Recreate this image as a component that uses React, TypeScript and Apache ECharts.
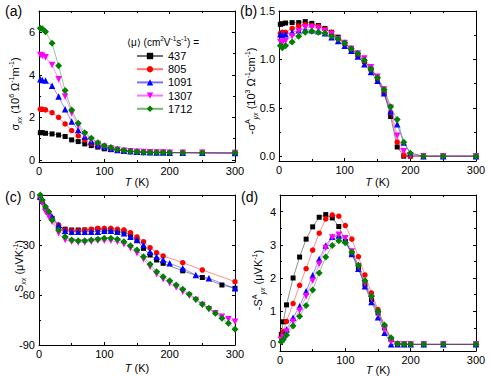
import React, { useEffect, useRef } from "react";
import * as echarts from "echarts";

// ---------- data ----------
const seriesNames = ["437", "805", "1091", "1307", "1712"];
const tempsAB = [2, 5, 10, 20, 30, 40, 50, 60, 70, 80, 90, 100, 110, 120, 130, 140, 150, 160, 170, 180, 190, 200, 220, 250, 300];

// (a) sigma_xx (10^6 Ohm^-1 m^-1)
const sxx437 = [1.28, 1.28, 1.25, 1.22, 1.17, 1.1, 0.94, 0.86, 0.75, 0.67, 0.6, 0.52, 0.48, 0.45, 0.42, 0.4, 0.38, 0.37, 0.36, 0.35, 0.35, 0.34, 0.34, 0.33, 0.32];
const sxx805 = [2.38, 2.38, 2.35, 2.22, 2.0, 1.69, 1.38, 1.13, 0.94, 0.78, 0.66, 0.58, 0.51, 0.46, 0.43, 0.4, 0.38, 0.37, 0.36, 0.35, 0.35, 0.34, 0.34, 0.33, 0.32];
const sxx1091 = [3.79, 3.76, 3.73, 3.48, 2.98, 2.38, 1.8, 1.41, 1.1, 0.86, 0.7, 0.6, 0.52, 0.47, 0.43, 0.4, 0.38, 0.37, 0.36, 0.35, 0.35, 0.34, 0.34, 0.33, 0.32];
const sxx1307 = [4.93, 4.9, 4.82, 4.46, 3.79, 2.98, 2.19, 1.6, 1.18, 0.94, 0.75, 0.62, 0.54, 0.48, 0.43, 0.4, 0.38, 0.37, 0.36, 0.35, 0.35, 0.34, 0.34, 0.33, 0.32];
const sxx1712 = [6.19, 6.16, 6.03, 5.48, 4.42, 3.26, 2.35, 1.72, 1.28, 1.02, 0.81, 0.66, 0.58, 0.5, 0.44, 0.41, 0.38, 0.36, 0.35, 0.35, 0.35, 0.34, 0.34, 0.33, 0.33];

// (b) -sigma^A_yx (10^3 Ohm^-1 cm^-1)
const syx437 = [1.362, 1.369, 1.376, 1.38, 1.38, 1.39, 1.372, 1.35, 1.32, 1.28, 1.23, 1.17, 1.11, 1.05, 0.98, 0.9, 0.8, 0.655, 0.41, 0.095, 0, 0, 0, 0, 0];
const syx805 = [1.27, 1.28, 1.28, 1.32, 1.345, 1.36, 1.35, 1.34, 1.31, 1.28, 1.21, 1.16, 1.1, 1.04, 0.98, 0.9, 0.8, 0.66, 0.45, 0.145, 0.01, 0, 0, 0, 0];
const syx1091 = [1.26, 1.25, 1.26, 1.28, 1.3, 1.31, 1.3, 1.29, 1.27, 1.23, 1.19, 1.14, 1.09, 1.03, 0.95, 0.87, 0.78, 0.65, 0.465, 0.33, 0.14, 0.03, 0, 0, 0];
const syx1307 = [1.18, 1.17, 1.19, 1.24, 1.29, 1.33, 1.33, 1.32, 1.29, 1.26, 1.21, 1.17, 1.11, 1.06, 1.01, 0.92, 0.82, 0.69, 0.5, 0.21, 0.05, 0.01, 0, 0, 0];
const syx1712 = [1.14, 1.12, 1.14, 1.18, 1.24, 1.28, 1.29, 1.28, 1.27, 1.24, 1.21, 1.17, 1.11, 1.06, 0.99, 0.9, 0.81, 0.69, 0.51, 0.38, 0.145, 0.03, 0, 0, 0];

// (c) S_xx (uV/K)
const tempsC437 = [2, 5, 10, 20, 30, 40, 50, 60, 70, 80, 90, 100, 110, 120, 130, 140, 150, 160, 170, 180, 190, 220, 250, 280, 300];
const Sxx437 = [-1, -4, -8, -14, -19, -20.5, -21, -21, -21, -21, -20.5, -21, -21, -21.5, -22, -24, -27, -32, -36, -39, -41, -45.5, -49.5, -54, -56];
const tempsC805 = [2, 5, 10, 20, 30, 40, 50, 60, 70, 80, 90, 100, 110, 120, 130, 140, 150, 160, 170, 180, 190, 220, 250, 300];
const Sxx805 = [-2, -4, -8, -14, -18, -21, -21.5, -21.5, -21, -20.5, -20, -20, -20, -20.5, -21, -22.6, -25.2, -28, -31.6, -34.6, -36.6, -40.6, -45, -52];
const tempsC1091 = [2, 5, 10, 15, 20, 30, 40, 50, 60, 70, 80, 90, 100, 110, 120, 130, 140, 150, 160, 170, 180, 190, 200, 220, 240, 260, 300];
const Sxx1091 = [-1, -3, -7, -10, -13, -18, -21.5, -22, -22, -22, -22, -22, -21.5, -21.5, -22, -23, -25, -27, -30, -34, -37, -39, -41, -44, -48, -50, -56];
const tempsC1307 = [2, 5, 10, 15, 20, 30, 40, 50, 60, 70, 80, 90, 100, 110, 120, 130, 140, 150, 160, 170, 180, 190, 200, 210, 220, 230, 240, 250, 260, 270, 280, 290, 300];
const Sxx1307 = [-2, -5, -10, -13, -16, -23, -27, -28, -28.5, -28.5, -28, -27.5, -27.5, -27.5, -28, -29.5, -32, -35, -38.5, -43, -47.5, -50.5, -53, -55.5, -58, -60.5, -63, -66, -68.5, -71, -73, -74.5, -76];
const tempsC1712 = [2, 5, 10, 15, 20, 30, 40, 50, 60, 70, 80, 90, 100, 110, 120, 130, 140, 150, 160, 170, 180, 190, 200, 210, 220, 230, 240, 250, 260, 270, 280, 290, 300];
const Sxx1712 = [0, -3, -7, -10, -15, -21, -25, -27, -27.5, -27.5, -27, -26.5, -26, -26, -26.5, -28, -30.5, -33, -37, -41.5, -46, -49, -51.5, -54, -56.5, -59.5, -62.5, -65.5, -68, -71, -74, -77, -80.5];

// (d) -S^A_yx (uV/K)
const Syx437 = [0.3, 0.68, 1.19, 2.0, 2.63, 3.17, 3.54, 3.83, 3.91, 3.81, 3.55, 3.1, 2.72, 2.3, 1.8, 1.35, 0.95, 0.5, 0.15, 0, 0, 0, 0, 0, 0];
const Syx805 = [0.2, 0.38, 0.69, 1.23, 1.78, 2.28, 2.84, 3.35, 3.78, 3.9, 3.86, 3.58, 3.17, 2.64, 2.09, 1.55, 1.05, 0.55, 0.15, 0, 0, 0, 0, 0, 0];
const Syx1091 = [0.15, 0.27, 0.45, 0.8, 1.15, 1.6, 2.08, 2.57, 2.98, 3.24, 3.28, 3.15, 2.72, 2.28, 1.75, 1.28, 0.82, 0.35, 0, 0, 0, 0, 0, 0, 0];
const Syx1307 = [0.13, 0.22, 0.38, 0.68, 1.02, 1.45, 1.92, 2.42, 2.9, 3.22, 3.3, 3.2, 2.8, 2.35, 1.83, 1.38, 0.92, 0.45, 0.08, 0, 0, 0, 0, 0, 0];
const Syx1712 = [0.08, 0.15, 0.28, 0.55, 0.85, 1.17, 1.64, 2.15, 2.63, 2.98, 3.12, 3.06, 2.78, 2.38, 1.92, 1.45, 1.0, 0.58, 0.2, 0.02, 0, 0, 0, 0, 0];

// tick values
const xMajor = [0, 100, 200, 300];
const yMajorA = [0, 2, 4, 6];
const yMinorA = [1, 3, 5];
const yMajorB = [0, 0.5, 1.0, 1.5];
const yMinorB = [0.25, 0.75, 1.25];
const yMajorC = [-90, -60, -30, 0];
const yMinorC = [-75, -45, -15];
const yMajorD = [0, 1, 2, 3, 4];
const yMinorD = [0.5, 1.5, 2.5, 3.5];

// ---------- styling ----------
const FONT = "'Liberation Sans', Arial, Helvetica, sans-serif";
const colors = ["#000000", "#ff0000", "#0000ff", "#ff00ff", "#008000"];
const symbols = ["rect", "circle", "triangle", "triangle", "diamond"];
const symbolRotates = [0, 0, 0, 180, 0];
const symbolSizes = [5, 5.5, 6.5, 6.5, 7];

const richX = {
  n: { fontSize: 11, lineHeight: 13, fontFamily: FONT, color: "#000" },
  i: { fontSize: 11, lineHeight: 13, fontFamily: FONT, color: "#000", fontStyle: "italic" },
};
const richY = {
  n: { fontSize: 11, lineHeight: 15, fontFamily: FONT, fill: "#000" },
  sub: { fontSize: 7, lineHeight: 7, fontFamily: FONT, fill: "#000", verticalAlign: "bottom", fontStyle: "italic" },
  sup: { fontSize: 7, lineHeight: 7, fontFamily: FONT, fill: "#000", verticalAlign: "top" },
};

type Panel = {
  grid: { left: number; top: number; width: number; height: number };
  ymin: number;
  ymax: number;
  major: number[];
  minor: number[];
  yfmt: (v: number) => string;
  yname: string;
  ynamePos: [number, number];
  xnameGap: number;
};

const panels: Panel[] = [
  {
    grid: { left: 39, top: 11, width: 196, height: 151 },
    ymin: -0.1, ymax: 7, major: yMajorA, minor: yMinorA,
    yfmt: (v) => String(v),
    yname: "{n|σ}{sub|xx}{n| (10}{sup|6}{n| Ω}{sup|-1}{n|m}{sup|-1}{n|)}",
    ynamePos: [15, 94],
    xnameGap: 13,
  },
  {
    grid: { left: 279, top: 11, width: 197, height: 150 },
    ymin: -0.05, ymax: 1.5, major: yMajorB, minor: yMinorB,
    yfmt: (v) => v.toFixed(1),
    yname: "{n|-σ}{sup|A}{sub|yx}{n| (10}{sup|3}{n| Ω}{sup|-1}{n|cm}{sup|-1}{n|)}",
    ynamePos: [251, 91],
    xnameGap: 14,
  },
  {
    grid: { left: 39, top: 195, width: 196, height: 150 },
    ymin: -90, ymax: 0, major: yMajorC, minor: yMinorC,
    yfmt: (v) => String(v),
    yname: "{n|S}{sub|xx}{n| (μVK}{sup|-1}{n|)}",
    ynamePos: [19, 266],
    xnameGap: 16,
  },
  {
    grid: { left: 280, top: 195, width: 196, height: 156 },
    ymin: -0.2, ymax: 4.5, major: yMajorD, minor: yMinorD,
    yfmt: (v) => String(v),
    yname: "{n|-S}{sup|A}{sub|yx}{n| (μVK}{sup|-1}{n|)}",
    ynamePos: [258, 280],
    xnameGap: 12,
  },
];

const panelData: { t: number[]; v: number[] }[][] = [
  [sxx437, sxx805, sxx1091, sxx1307, sxx1712].map((v) => ({ t: tempsAB, v })),
  [syx437, syx805, syx1091, syx1307, syx1712].map((v) => ({ t: tempsAB, v })),
  [
    { t: tempsC437, v: Sxx437 },
    { t: tempsC805, v: Sxx805 },
    { t: tempsC1091, v: Sxx1091 },
    { t: tempsC1307, v: Sxx1307 },
    { t: tempsC1712, v: Sxx1712 },
  ],
  [Syx437, Syx805, Syx1091, Syx1307, Syx1712].map((v) => ({ t: tempsAB, v })),
];

const panelLabels = [
  { text: "(a)", x: 5, y: 4 },
  { text: "(b)", x: 240, y: 4 },
  { text: "(c)", x: 5, y: 190 },
  { text: "(d)", x: 241, y: 190 },
];

function buildOption() {
  const grids: any[] = [];
  const xAxes: any[] = [];
  const yAxes: any[] = [];
  const series: any[] = [];
  const axisLine = { show: true, onZero: false, lineStyle: { color: "#000", width: 1 } };
  const noLine = { show: false, onZero: false };
  panels.forEach((p, g) => {
    grids.push({ ...p.grid, show: false, containLabel: false, outerBoundsMode: "none" });
    const xBase = {
      type: "value", gridIndex: g, min: 0, max: 300, interval: 100,
      axisLine, splitLine: { show: false },
      axisTick: { show: true, inside: true, length: 3, lineStyle: { color: "#000" } },
      minorTick: { show: true, splitNumber: 2, length: 2, lineStyle: { color: "#000" } },
      minorSplitLine: { show: false },
    };
    xAxes.push({
      ...xBase, position: "bottom",
      axisLabel: { show: true, color: "#000", fontSize: 11, fontFamily: FONT, margin: 3, customValues: xMajor },
      name: "{i|T}{n| (K)}", nameLocation: "middle", nameGap: p.xnameGap, nameMoveOverlap: false,
      nameTextStyle: { rich: richX },
    });
    xAxes.push({ ...xBase, position: "top", axisLabel: { show: false } });
    const yBase = {
      type: "value", gridIndex: g, min: p.ymin, max: p.ymax,
      splitLine: { show: false }, minorTick: { show: false }, minorSplitLine: { show: false },
    };
    const majorTick = { show: true, inside: true, length: 3, customValues: p.major, lineStyle: { color: "#000" } };
    const minorTick = { show: true, inside: true, length: 2, customValues: p.minor, lineStyle: { color: "#000" } };
    yAxes.push({
      ...yBase, position: "left", axisLine, axisTick: majorTick,
      axisLabel: { show: true, color: "#000", fontSize: 11, fontFamily: FONT, margin: 4, customValues: p.major, formatter: p.yfmt },
    });
    yAxes.push({ ...yBase, position: "left", axisLine: noLine, axisTick: minorTick, axisLabel: { show: false } });
    yAxes.push({ ...yBase, position: "right", axisLine, axisTick: majorTick, axisLabel: { show: false } });
    yAxes.push({ ...yBase, position: "right", axisLine: noLine, axisTick: minorTick, axisLabel: { show: false } });
    panelData[g].forEach((d, k) => {
      series.push({
        type: "line",
        name: seriesNames[k],
        xAxisIndex: 2 * g,
        yAxisIndex: 4 * g,
        data: d.t.map((t, i) => [t, d.v[i]]),
        symbol: symbols[k],
        symbolRotate: symbolRotates[k],
        symbolSize: symbolSizes[k],
        showAllSymbol: true,
        itemStyle: { color: colors[k] },
        lineStyle: { color: colors[k], width: 0.8, opacity: 0.55 },
        emphasis: { disabled: true },
        z: 2 + k,
      });
    });
  });

  const graphics: any[] = panelLabels.map((l) => ({
    type: "text", left: l.x, top: l.y,
    style: { text: l.text, fontSize: 14, fontFamily: FONT, fill: "#000" },
  }));
  panels.forEach((p) => {
    graphics.push({
      type: "text",
      x: p.ynamePos[0],
      y: p.ynamePos[1],
      rotation: Math.PI / 2,
      style: { text: p.yname, rich: richY, align: "center", verticalAlign: "middle" },
    });
  });
  graphics.push({
    type: "text", x: 199, y: 42,
    style: {
      text: "{n|⟨μ⟩ (cm}{sup|2}{n|V}{sup|-1}{n|s}{sup|-1}{n|) =}",
      align: "right",
      verticalAlign: "middle",
      rich: {
        n: { fontSize: 10, lineHeight: 15, fontFamily: FONT, fill: "#000" },
        sup: { fontSize: 6.5, lineHeight: 8, fontFamily: FONT, fill: "#000", verticalAlign: "top" },
      },
    },
  });

  return {
    animation: false,
    backgroundColor: "#fff",
    textStyle: { fontFamily: FONT },
    grid: grids,
    xAxis: xAxes,
    yAxis: yAxes,
    legend: {
      show: true,
      data: seriesNames,
      orient: "vertical",
      left: 131,
      top: 45,
      itemWidth: 26,
      itemHeight: 8,
      itemGap: 1.2,
      selectedMode: false,
      textStyle: { fontSize: 11, fontFamily: FONT, color: "#000", lineHeight: 12 },
    },
    graphic: graphics,
    series,
  };
}

export default function App() {
  const ref = useRef<HTMLDivElement>(null);
  useEffect(() => {
    if (!ref.current) return;
    const chart = echarts.init(ref.current, null, { renderer: "svg" });
    chart.setOption(buildOption() as any);
    return () => chart.dispose();
  }, []);
  return (
    <div
      ref={ref}
      style={{ position: "fixed", left: 0, top: 0, width: 491, height: 376, background: "#fff" }}
    />
  );
}
